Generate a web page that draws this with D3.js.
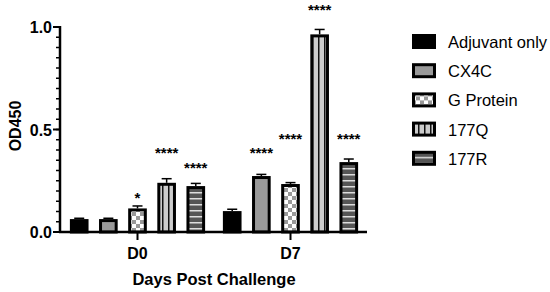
<!DOCTYPE html>
<html>
<head>
<meta charset="utf-8">
<script src="https://cdn.jsdelivr.net/npm/d3@7"></script>
<style>
  body { margin: 0; background: #fff; }
  svg text { font-family: "Liberation Sans", Arial, sans-serif; }
</style>
</head>
<body>
<div id="chart"></div>
<script>
// data
var days = ["D0", "D7"];
var groups = ["Adjuvant only", "CX4C", "G Protein", "177Q", "177R"];
var meanD0 = [0.063, 0.063, 0.115, 0.240, 0.224];
var meanD7 = [0.102, 0.273, 0.234, 0.964, 0.341];
var errD0 = [0.004, 0.004, 0.012, 0.020, 0.013];
var errD7 = [0.009, 0.008, 0.007, 0.024, 0.015];
var starsD0 = ["", "", "*", "****", "****"];
var starsD7 = ["", "****", "****", "****", "****"];
// height (OD units) where the significance marks sit
var starYD0 = [0, 0, 0.17, 0.39, 0.315];
var starYD7 = [0, 0.39, 0.46, 1.09, 0.46];
var yTicks = [0, 0.5, 1.0];

var W = 550, H = 292;

var svg = d3.select("#chart").append("svg").attr("width", W).attr("height", H);
var defs = svg.append("defs");

// fill patterns
var pg = defs.append("pattern").attr("id", "pat-g").attr("patternUnits", "userSpaceOnUse")
  .attr("width", 8).attr("height", 8);
pg.append("rect").attr("width", 8).attr("height", 8).attr("fill", "#fff");
pg.append("rect").attr("width", 4).attr("height", 4).attr("fill", "#999");
pg.append("rect").attr("x", 4).attr("y", 4).attr("width", 4).attr("height", 4).attr("fill", "#999");

var pq = defs.append("pattern").attr("id", "pat-q").attr("patternUnits", "userSpaceOnUse")
  .attr("width", 6).attr("height", 6);
pq.append("rect").attr("width", 6).attr("height", 6).attr("fill", "#ccc");
pq.append("rect").attr("x", 0).attr("width", 1.5).attr("height", 6).attr("fill", "#111");

var pr = defs.append("pattern").attr("id", "pat-r").attr("patternUnits", "userSpaceOnUse")
  .attr("width", 6).attr("height", 6);
pr.append("rect").attr("width", 6).attr("height", 6).attr("fill", "#555");
pr.append("rect").attr("y", 0).attr("width", 6).attr("height", 1.5).attr("fill", "#ddd");

var fills = ["#000", "#999", "url(#pat-g)", "url(#pat-q)", "url(#pat-r)"];

var y = d3.scaleLinear().domain([0, 1.0]).range([232, 27]);
var x0 = d3.scaleBand().domain(days).range([61, 367]).paddingInner(0.04).paddingOuter(0.02);
var x1 = d3.scaleBand().domain(groups).range([0, x0.bandwidth()]).paddingInner(0.36).paddingOuter(0.2);

var rows = [];
days.forEach(function (d, di) {
  var means = di == 0 ? meanD0 : meanD7;
  var errs = di == 0 ? errD0 : errD7;
  var stars = di == 0 ? starsD0 : starsD7;
  var sy = di == 0 ? starYD0 : starYD7;
  groups.forEach(function (g, gi) {
    rows.push({day: d, group: g, gi: gi, v: means[gi], e: errs[gi], s: stars[gi], sy: sy[gi]});
  });
});

var g = svg.append("g");
var bar = g.selectAll(".bar").data(rows).enter().append("g");

function cx(d) { return x0(d.day) + x1(d.group) + x1.bandwidth() / 2; }

// error bars (upper only)
bar.append("line")
  .attr("x1", cx).attr("x2", cx)
  .attr("y1", function (d) { return y(d.v); })
  .attr("y2", function (d) { return y(d.v + d.e); })
  .attr("stroke", "#000").attr("stroke-width", 1.5);
bar.append("line")
  .attr("x1", function (d) { return cx(d) - 5; })
  .attr("x2", function (d) { return cx(d) + 5; })
  .attr("y1", function (d) { return y(d.v + d.e); })
  .attr("y2", function (d) { return y(d.v + d.e); })
  .attr("stroke", "#000").attr("stroke-width", 1.5);

bar.append("rect")
  .attr("x", function (d) { return x0(d.day) + x1(d.group) + 1.5; })
  .attr("width", x1.bandwidth() - 3)
  .attr("y", function (d) { return y(d.v) + 1.5; })
  .attr("height", function (d) { return Math.max(0, y(0) - y(d.v) - 1.5); })
  .attr("fill", function (d) { return fills[d.gi]; })
  .attr("stroke", "#000").attr("stroke-width", 3);

bar.filter(function (d) { return d.s != ""; }).append("text")
  .attr("x", cx)
  .attr("y", function (d) { return y(d.sy) + 6; })
  .attr("text-anchor", "middle")
  .attr("font-size", 15).attr("font-weight", "bold")
  .text(function (d) { return d.s; });

// y axis
var minor = d3.range(0, 1.0001, 0.05);
var ya = svg.append("g").attr("transform", "translate(60,0)");
ya.append("line").attr("y1", y(0)).attr("y2", y(1.0) - 1).attr("stroke", "#000").attr("stroke-width", 2.5);
ya.selectAll(".mt").data(minor).enter().append("line")
  .attr("x1", -4).attr("x2", 0).attr("y1", function (d) { return y(d); }).attr("y2", function (d) { return y(d); })
  .attr("stroke", "#000").attr("stroke-width", 1.5);
ya.selectAll(".Mt").data(yTicks).enter().append("line")
  .attr("x1", -7).attr("x2", 0).attr("y1", function (d) { return y(d); }).attr("y2", function (d) { return y(d); })
  .attr("stroke", "#000").attr("stroke-width", 2);
ya.selectAll(".tl").data(yTicks).enter().append("text")
  .attr("x", -8).attr("y", function (d) { return y(d) + 6; })
  .attr("text-anchor", "end").attr("font-size", 16).attr("font-weight", "bold")
  .text(function (d) { return d3.format(".1f")(d); });

// x axis
var xa = svg.append("g");
xa.append("line").attr("x1", 59).attr("x2", 367).attr("y1", y(0)).attr("y2", y(0)).attr("stroke", "#000").attr("stroke-width", 2.5);
xa.selectAll(".xt").data(days).enter().append("line")
  .attr("x1", function (d) { return x0(d) + x0.bandwidth() / 2; })
  .attr("x2", function (d) { return x0(d) + x0.bandwidth() / 2; })
  .attr("y1", y(0)).attr("y2", y(0) + 8)
  .attr("stroke", "#000").attr("stroke-width", 2);
xa.selectAll(".xl").data(days).enter().append("text")
  .attr("x", function (d) { return x0(d) + x0.bandwidth() / 2; })
  .attr("y", 259).attr("text-anchor", "middle").attr("font-size", 16).attr("font-weight", "bold")
  .text(function (d) { return d; });

svg.append("text").attr("x", 214).attr("y", 285).attr("text-anchor", "middle")
  .attr("font-size", 16.5).attr("font-weight", "bold").text("Days Post Challenge");
svg.append("text").attr("transform", "translate(21,126) rotate(-90)").attr("text-anchor", "middle")
  .attr("font-size", 16).attr("font-weight", "bold").text("OD450");

// legend
var leg = svg.append("g").attr("transform", "translate(412,34)");
var li = leg.selectAll(".li").data(groups).enter().append("g")
  .attr("transform", function (d, i) { return "translate(0," + (i * 29.2) + ")"; });
li.append("rect").attr("x", 1.5).attr("y", 1.5).attr("width", 21).attr("height", 12)
  .attr("fill", function (d, i) { return fills[i]; })
  .attr("stroke", "#000").attr("stroke-width", 3);
li.append("text").attr("x", 36).attr("y", 14).attr("font-size", 16.5)
  .text(function (d) { return d; });
</script>
</body>
</html>
